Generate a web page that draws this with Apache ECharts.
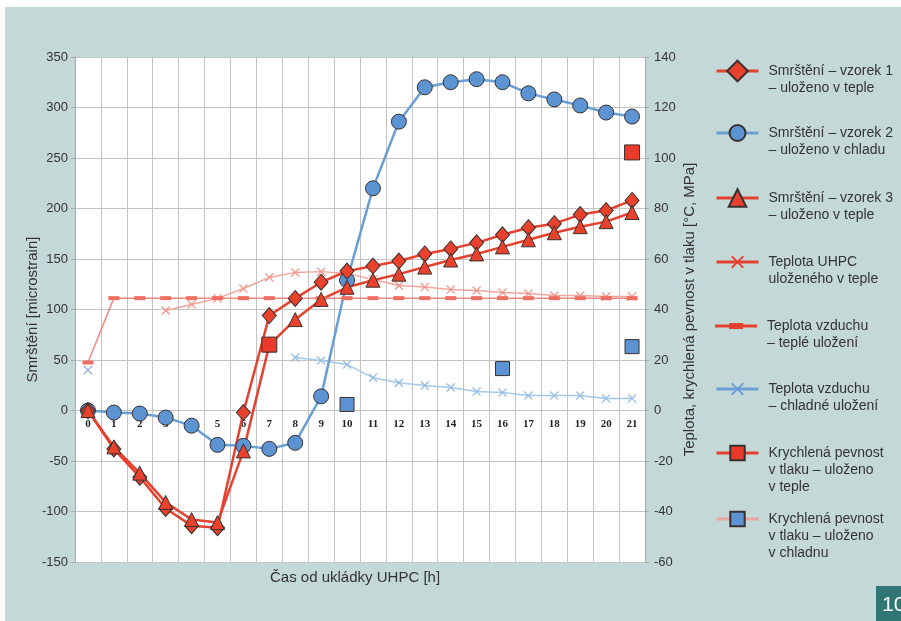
<!DOCTYPE html>
<html>
<head>
<meta charset="utf-8">
<script src="https://cdn.jsdelivr.net/npm/echarts@6/dist/echarts.min.js"></script>
<style>
  html, body { margin: 0; padding: 0; background: #ffffff; }
  #chart { width: 901px; height: 621px; }
</style>
</head>
<body>
<div id="chart"></div>
<script>
// Hours after casting (category axis)
const hours = ['0','1','2','3','4','5','6','7','8','9','10','11','12','13','14','15','16','17','18','19','20','21'];

// Shrinkage [microstrain], left axis
const shrinkSample1 = [0, -38, -66, -97, -114, -116, -2, 94, 111, 127, 138, 143, 148, 155, 160, 166, 174, 181, 185, 194, 198, 208];
const shrinkSample2 = [0, -2, -3, -7, -15, -34, -35, -38, -32, 14, 129, 220, 286, 320, 325, 328, 325, 314, 308, 302, 295, 291];
const shrinkSample3 = [0, -36, -62, -91, -108, -111, -40, 65, 90, 110, 122, 129, 135, 142, 149, 155, 162, 169, 176, 182, 187, 196];

// Temperatures [°C] and cube compressive strength [MPa], right axis
const tempUhpcWarm = [16, null, null, 39.6, 42, 44.4, 48.3, 52.7, 54.7, 55, 54.3, 51.9, 49.5, 48.9, 47.9, 47.5, 46.7, 46.3, 45.5, 45.5, 45.1, 45.1];
const tempAirWarm  = [19, 44.5, 44.5, 44.5, 44.5, 44.5, 44.5, 44.5, 44.5, 44.5, 44.5, 44.5, 44.5, 44.5, 44.5, 44.5, 44.5, 44.5, 44.5, 44.5, 44.5, 44.5];
const tempAirCold  = [16, null, null, null, null, null, null, null, 21, 19.8, 18.2, 13, 11, 9.9, 9.1, 7.5, 7.1, 5.9, 5.9, 5.9, 4.8, 4.8];
const strengthWarm = [null, null, null, null, null, null, null, 26.1, null, null, null, null, null, null, null, null, null, null, null, null, null, 102.2];
const strengthCold = [null, null, null, null, null, null, null, null, null, null, 2.4, null, null, null, null, null, 16.6, null, null, null, null, 25.3];

// Legend labels, one array of lines per series
const labelSample1 = ['Smrštění – vzorek 1', '– uloženo v teple'];
const labelSample2 = ['Smrštění – vzorek 2', '– uloženo v chladu'];
const labelSample3 = ['Smrštění – vzorek 3', '– uloženo v teple'];
const labelUhpc    = ['Teplota UHPC', 'uloženého v teple'];
const labelAirWarm = ['Teplota vzduchu', '– teplé uložení'];
const labelAirCold = ['Teplota vzduchu', '– chladné uložení'];
const labelStrWarm = ['Krychlená pevnost', 'v tlaku – uloženo', 'v teple'];
const labelStrCold = ['Krychlená pevnost', 'v tlaku – uloženo', 'v chladnu'];

const leftTitle = 'Smrštění [microstrain]';
const rightTitle = 'Teplota, krychlená pevnost v tlaku [°C, MPa]';
const bottomTitle = 'Čas od ukládky UHPC [h]';

const FONT = 'Liberation Sans, Arial, sans-serif';
const RED = '#e6412f';
const BLUE = '#6a9fd6';
const EDGE = '#3a3030';
const CROSS = 'path://M0,1L1,0L5,4L9,0L10,1L6,5L10,9L9,10L5,6L1,10L0,9L4,5Z';
const DASH = 'path://M0,0H14V5H0Z';
// key icon: line with a short thick dash in the middle
const DASH_KEY = 'path://M0,5.5H14V4H28V5.5H42V8.5H28V10H14V8.5H0Z';

// plot area geometry
const GRID_TOP = 57, GRID_BOTTOM = 59, PLOT_H = 621 - GRID_TOP - GRID_BOTTOM;
const Y_MIN = -150, Y_MAX = 350;
// the hour axis runs along the zero line of the shrinkage scale
const zeroOffset = -PLOT_H * (0 - Y_MIN) / (Y_MAX - Y_MIN);

const nm = a => a.join(' ');

const series = [
  { name: nm(labelUhpc), type: 'line', yAxisIndex: 1, data: tempUhpcWarm,
    symbol: CROSS, symbolSize: 9, itemStyle: { color: '#f0958c' },
    lineStyle: { color: '#f3a59d', width: 1.5 } },
  { name: nm(labelAirWarm), type: 'line', yAxisIndex: 1, data: tempAirWarm,
    symbol: DASH, symbolSize: [11, 4], itemStyle: { color: '#ee6e62' },
    lineStyle: { color: '#f08a80', width: 1.5 } },
  { name: nm(labelAirCold), type: 'line', yAxisIndex: 1, data: tempAirCold,
    symbol: CROSS, symbolSize: 9, itemStyle: { color: '#93bde6' },
    lineStyle: { color: '#a4c8ea', width: 1.5 } },
  { name: nm(labelSample2), type: 'line', yAxisIndex: 0, data: shrinkSample2,
    symbol: 'circle', symbolSize: 15,
    itemStyle: { color: '#5b93d3', borderColor: EDGE, borderWidth: 1 },
    lineStyle: { color: BLUE, width: 2.5 } },
  { name: nm(labelSample1), type: 'line', yAxisIndex: 0, data: shrinkSample1,
    symbol: 'diamond', symbolSize: [14, 16],
    itemStyle: { color: '#e8412c', borderColor: EDGE, borderWidth: 1 },
    lineStyle: { color: RED, width: 2.5 } },
  { name: nm(labelSample3), type: 'line', yAxisIndex: 0, data: shrinkSample3,
    symbol: 'triangle', symbolSize: 14,
    itemStyle: { color: '#e8412c', borderColor: EDGE, borderWidth: 1 },
    lineStyle: { color: RED, width: 2.5 } },
  { name: nm(labelStrWarm), type: 'line', yAxisIndex: 1, data: strengthWarm,
    symbol: 'rect', symbolSize: 15, connectNulls: false,
    itemStyle: { color: '#ea3b2a', borderColor: EDGE, borderWidth: 1 },
    lineStyle: { color: RED, width: 3 } },
  { name: nm(labelStrCold), type: 'line', yAxisIndex: 1, data: strengthCold,
    symbol: 'rect', symbolSize: 14, connectNulls: false,
    itemStyle: { color: '#5b93d3', borderColor: EDGE, borderWidth: 1 },
    lineStyle: { color: '#e9a3a0', width: 3 } }
];

// One legend block per series so the icon lines up with the first text line
const LH = 17;
function legendBlock(lines, iconY, itemHeight, lineColor) {
  const pad = lines.length - 1;
  const total = lines.length + pad;
  const boxH = Math.max(itemHeight, total * LH);
  return {
    show: true,
    data: [nm(lines)],
    left: 715,
    top: iconY - boxH / 2,
    padding: 0,
    itemWidth: 42,
    itemHeight: itemHeight,
    selectedMode: false,
    lineStyle: { color: lineColor, width: 3 },
    formatter: () => new Array(pad).fill('').concat(lines).join('\n'),
    textStyle: { fontFamily: FONT, fontSize: 14, lineHeight: LH, color: '#333', padding: [0, 0, 0, 5] }
  };
}

const legends = [
  legendBlock(labelSample1, 71, 26, RED),
  legendBlock(labelSample2, 133, 20, BLUE),
  legendBlock(labelSample3, 198, 22, RED),
  legendBlock(labelUhpc, 262, 16, RED),
  legendBlock(labelAirWarm, 326, 6, RED),
  legendBlock(labelAirCold, 389, 16, BLUE),
  legendBlock(labelStrWarm, 453, 18, RED),
  legendBlock(labelStrCold, 519, 18, '#e9a3a0')
];
// legend icons in the key use the strong colours
legends[3].itemStyle = { color: RED };
legends[4].itemStyle = { color: RED };
legends[4].icon = DASH_KEY;
legends[5].itemStyle = { color: BLUE };

const chart = echarts.init(document.getElementById('chart'), null, { renderer: 'canvas' });
chart.setOption({
  animation: false,
  backgroundColor: '#ffffff',
  textStyle: { fontFamily: FONT },
  graphic: [
    { type: 'rect', z: -10, shape: { x: 5, y: 7, width: 896, height: 614 }, style: { fill: '#c5d8d8' } },
    { type: 'text', left: 270, top: 570, style: { text: bottomTitle, fontFamily: FONT, fontSize: 15, fill: '#333' } },
    { type: 'rect', shape: { x: 876, y: 586, width: 25, height: 35 }, style: { fill: '#2f7675' } },
    { type: 'text', x: 882, y: 595, style: { text: '10', fontFamily: FONT, fontSize: 21, fill: '#ffffff' } }
  ],
  grid: { left: 75, right: 256, top: GRID_TOP, bottom: GRID_BOTTOM, show: true, backgroundColor: '#ffffff', borderWidth: 0 },
  legend: legends,
  xAxis: {
    type: 'category',
    data: hours,
    boundaryGap: true,
    position: 'bottom',
    offset: zeroOffset,
    axisLine: { onZero: false, lineStyle: { color: '#c2c2c2' } },
    axisTick: { show: false },
    axisLabel: { interval: 0, margin: 8, fontFamily: 'Liberation Serif, serif', fontWeight: 'bold', fontSize: 11, color: '#222' },
    splitLine: { show: true, interval: 0, lineStyle: { color: '#c4c4c4', width: 1 } }
  },
  yAxis: [
    {
      type: 'value', min: Y_MIN, max: Y_MAX, interval: 50, position: 'left',
      name: leftTitle, nameLocation: 'middle', nameGap: 35, nameMoveOverlap: false,
      nameTextStyle: { fontFamily: FONT, fontSize: 15, color: '#333' },
      axisLine: { show: true, lineStyle: { color: '#a8a8a8' } },
      axisTick: { show: true, length: 4, lineStyle: { color: '#a8a8a8' } },
      axisLabel: { fontFamily: FONT, fontSize: 13, color: '#333', margin: 7 },
      splitLine: { show: true, lineStyle: { color: '#c4c4c4', width: 1 } }
    },
    {
      type: 'value', min: -60, max: 140, interval: 20, position: 'right',
      name: rightTitle, nameLocation: 'middle', nameGap: 37, nameMoveOverlap: false,
      nameTextStyle: { fontFamily: FONT, fontSize: 15, color: '#333' },
      axisLine: { show: true, lineStyle: { color: '#a8a8a8' } },
      axisTick: { show: true, length: 4, lineStyle: { color: '#a8a8a8' } },
      axisLabel: { fontFamily: FONT, fontSize: 13, color: '#333', margin: 9 },
      splitLine: { show: false }
    }
  ],
  series: series
});
</script>
</body>
</html>
